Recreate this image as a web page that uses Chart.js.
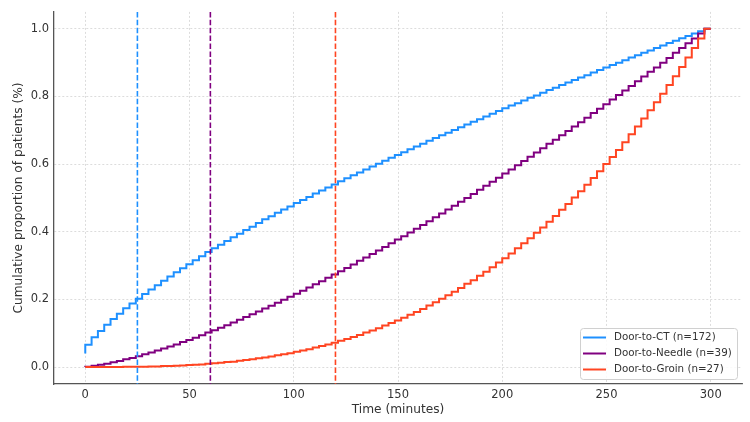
<!DOCTYPE html>
<html>
<head>
<meta charset="utf-8">
<script src="https://cdn.jsdelivr.net/npm/chart.js@4"></script>
<style>
body { margin: 0; background: #fff; }
#wrap { width: 750px; height: 422px; }
</style>
</head>
<body>
<div id="wrap"><canvas id="myChart" width="750" height="422"></canvas></div>
<script>
//Datos
const tiempos = [
    0, 3.03, 6.06, 9.09, 12.12, 15.15, 18.18, 21.21, 24.24, 27.27,
    30.3, 33.33, 36.36, 39.39, 42.42, 45.45, 48.48, 51.52, 54.55, 57.58,
    60.61, 63.64, 66.67, 69.7, 72.73, 75.76, 78.79, 81.82, 84.85, 87.88,
    90.91, 93.94, 96.97, 100, 103.03, 106.06, 109.09, 112.12, 115.15, 118.18,
    121.21, 124.24, 127.27, 130.3, 133.33, 136.36, 139.39, 142.42, 145.45, 148.48,
    151.52, 154.55, 157.58, 160.61, 163.64, 166.67, 169.7, 172.73, 175.76, 178.79,
    181.82, 184.85, 187.88, 190.91, 193.94, 196.97, 200, 203.03, 206.06, 209.09,
    212.12, 215.15, 218.18, 221.21, 224.24, 227.27, 230.3, 233.33, 236.36, 239.39,
    242.42, 245.45, 248.48, 251.52, 254.55, 257.58, 260.61, 263.64, 266.67, 269.7,
    272.73, 275.76, 278.79, 281.82, 284.85, 287.88, 290.91, 293.94, 296.97, 300
];

const doorToCT = [
    0.040, 0.066, 0.088, 0.107, 0.125, 0.142, 0.158, 0.174, 0.188, 0.202,
    0.216, 0.229, 0.242, 0.255, 0.268, 0.280, 0.292, 0.304, 0.316, 0.328,
    0.340, 0.351, 0.362, 0.373, 0.384, 0.394, 0.405, 0.415, 0.426, 0.437,
    0.446, 0.456, 0.466, 0.475, 0.485, 0.494, 0.503, 0.513, 0.522, 0.531,
    0.540, 0.549, 0.558, 0.567, 0.575, 0.584, 0.593, 0.601, 0.610, 0.619,
    0.627, 0.635, 0.644, 0.652, 0.660, 0.669, 0.677, 0.685, 0.693, 0.701,
    0.709, 0.717, 0.725, 0.733, 0.741, 0.749, 0.757, 0.765, 0.773, 0.780,
    0.788, 0.796, 0.803, 0.811, 0.819, 0.826, 0.834, 0.841, 0.849, 0.856,
    0.863, 0.871, 0.878, 0.886, 0.893, 0.900, 0.907, 0.915, 0.922, 0.929,
    0.936, 0.943, 0.951, 0.958, 0.965, 0.972, 0.979, 0.986, 0.993, 1.000
];

const doorToNeedle = [
    0.000, 0.001, 0.004, 0.007, 0.010, 0.014, 0.018, 0.023, 0.027, 0.032,
    0.038, 0.043, 0.049, 0.055, 0.061, 0.067, 0.074, 0.080, 0.087, 0.094,
    0.102, 0.109, 0.116, 0.124, 0.132, 0.140, 0.148, 0.156, 0.164, 0.173,
    0.181, 0.190, 0.199, 0.208, 0.217, 0.226, 0.235, 0.245, 0.254, 0.264,
    0.274, 0.283, 0.293, 0.303, 0.314, 0.324, 0.334, 0.345, 0.355, 0.366,
    0.377, 0.387, 0.398, 0.409, 0.420, 0.431, 0.443, 0.454, 0.466, 0.477,
    0.489, 0.500, 0.512, 0.524, 0.536, 0.548, 0.560, 0.572, 0.584, 0.597,
    0.609, 0.622, 0.634, 0.647, 0.660, 0.672, 0.685, 0.698, 0.711, 0.724,
    0.737, 0.751, 0.764, 0.777, 0.791, 0.804, 0.818, 0.831, 0.845, 0.859,
    0.873, 0.886, 0.900, 0.914, 0.929, 0.943, 0.957, 0.971, 0.986, 1.000
];

const doorToGroin = [
    0.000, 0.000, 0.000, 0.000, 0.000, 0.000, 0.000, 0.001, 0.001, 0.001,
    0.001, 0.002, 0.002, 0.003, 0.003, 0.004, 0.005, 0.006, 0.007, 0.008,
    0.010, 0.011, 0.013, 0.015, 0.016, 0.019, 0.021, 0.023, 0.026, 0.028,
    0.031, 0.035, 0.038, 0.041, 0.045, 0.049, 0.053, 0.058, 0.062, 0.067,
    0.072, 0.078, 0.083, 0.089, 0.095, 0.102, 0.108, 0.115, 0.123, 0.130,
    0.138, 0.146, 0.155, 0.163, 0.172, 0.182, 0.192, 0.202, 0.212, 0.223,
    0.234, 0.246, 0.257, 0.270, 0.282, 0.295, 0.309, 0.322, 0.336, 0.351,
    0.366, 0.381, 0.397, 0.413, 0.430, 0.447, 0.465, 0.482, 0.501, 0.520,
    0.539, 0.559, 0.579, 0.600, 0.621, 0.642, 0.665, 0.688, 0.711, 0.735,
    0.759, 0.783, 0.808, 0.834, 0.860, 0.887, 0.915, 0.943, 0.971, 1.000
];

const etiquetas = ['Door-to-CT (n=172)', 'Door-to-Needle (n=39)', 'Door-to-Groin (n=27)'];
const colores = ['#1e90ff', '#800080', '#ff4522'];
const umbrales = [25, 60, 120];   //lineas discontinuas verticales
const xTicks = [0, 50, 100, 150, 200, 250, 300];
const yTicks = [0, 0.2, 0.4, 0.6, 0.8, 1.0];

const fuente = '"DejaVu Sans", sans-serif';

const puntos = (serie) => tiempos.map((t, i) => ({ x: t, y: serie[i] }));

const data = {
    datasets: [doorToCT, doorToNeedle, doorToGroin].map((serie, i) => ({
        label: etiquetas[i],
        data: puntos(serie),
        borderColor: colores[i],
        borderWidth: 2,
        pointRadius: 0,
        stepped: 'after',
        fill: false,
        order: 2 - i
    }))
};

//Lineas verticales discontinuas
const lineasUmbral = {
    id: 'lineasUmbral',
    afterDatasetsDraw(chart) {
        const { ctx, chartArea, scales: { x } } = chart;
        ctx.save();
        ctx.lineWidth = 1.6;
        ctx.setLineDash([5.5, 2.4]);
        umbrales.forEach((u, i) => {
            const px = x.getPixelForValue(u);
            ctx.strokeStyle = colores[i];
            ctx.beginPath();
            ctx.moveTo(px, chartArea.top);
            ctx.lineTo(px, chartArea.bottom);
            ctx.stroke();
        });
        ctx.restore();
    }
};

//Leyenda dentro del area, abajo a la derecha
const leyenda = {
    id: 'leyenda',
    afterDraw(chart) {
        const { ctx, chartArea } = chart;
        const w = 157, h = 51;
        const x0 = chartArea.right - 5 - w;
        const y0 = chartArea.bottom - 5 - h;
        ctx.save();
        ctx.fillStyle = 'rgba(255,255,255,0.85)';
        ctx.strokeStyle = '#d0d0d0';
        ctx.lineWidth = 1;
        ctx.beginPath();
        ctx.roundRect(x0 + 0.5, y0 + 0.5, w, h, 3);
        ctx.fill();
        ctx.stroke();
        ctx.font = '10.3px ' + fuente;
        ctx.textBaseline = 'middle';
        etiquetas.forEach((txt, i) => {
            const y = y0 + 9.5 + i * 16;
            ctx.strokeStyle = colores[i];
            ctx.lineWidth = 2;
            ctx.beginPath();
            ctx.moveTo(x0 + 3, y);
            ctx.lineTo(x0 + 26, y);
            ctx.stroke();
            ctx.fillStyle = '#333';
            ctx.fillText(txt, x0 + 34, y);
        });
        ctx.restore();
    }
};

const options = {
    responsive: false,
    animation: false,
    layout: { padding: { left: 0, right: 8, top: 7, bottom: 0 } },
    plugins: {
        legend: { display: false },
        tooltip: { enabled: false }
    },
    scales: {
        x: {
            type: 'linear',
            min: -15,
            max: 315,
            afterBuildTicks: (s) => { s.ticks = xTicks.map(v => ({ value: v })); },
            afterFit: (s) => { s.height = 38; },
            ticks: { color: '#333', padding: 4, font: { family: fuente, size: 11.5 }, callback: (v) => String(v) },
            grid: { color: '#d4d4d4', lineWidth: 0.8, drawTicks: false },
            border: { display: true, color: '#555', width: 1.3, dash: [2, 2] },
            title: { display: true, text: 'Time (minutes)', color: '#333', font: { family: fuente, size: 12.2 }, padding: { top: 0, bottom: 5 } }
        },
        y: {
            type: 'linear',
            min: -0.05,
            max: 1.05,
            afterBuildTicks: (s) => { s.ticks = yTicks.map(v => ({ value: v })); },
            afterFit: (s) => { s.width = 54; },
            ticks: { color: '#333', padding: 5, font: { family: fuente, size: 11.5 }, callback: (v) => v.toFixed(1) },
            grid: { color: '#d4d4d4', lineWidth: 0.8, drawTicks: false },
            border: { display: true, color: '#555', width: 1.3, dash: [2, 2] },
            title: { display: true, text: 'Cumulative proportion of patients (%)', color: '#333', font: { family: fuente, size: 12.2 }, padding: { top: 12, bottom: 0 } }
        }
    }
};

const config = {
    type: 'line',
    data,
    options,
    plugins: [lineasUmbral, leyenda]
};

const myChart = new Chart(document.getElementById('myChart').getContext('2d'), config);
</script>
</body>
</html>
